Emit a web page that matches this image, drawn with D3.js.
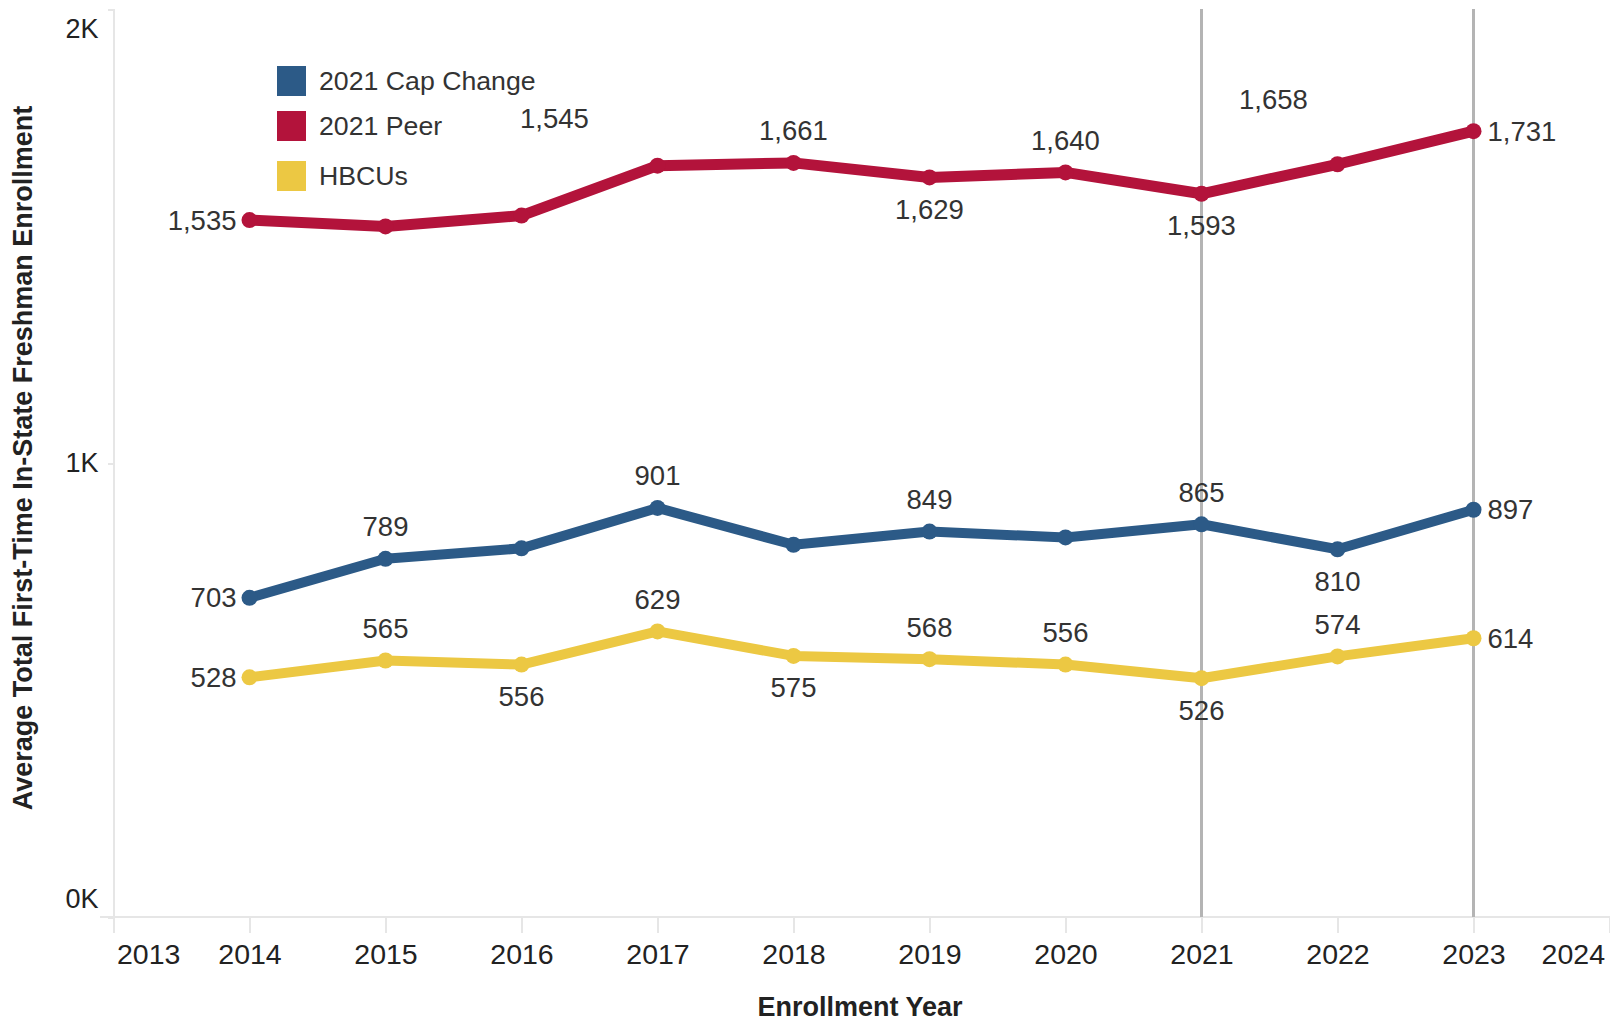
<!DOCTYPE html>
<html lang="en">
  <head>
    <meta charset="utf-8"/>
    <title>Average Total First-Time In-State Freshman Enrollment</title>
    <style>
      body {
        margin: 0;
        background: #fff;
        font-family: "Liberation Sans", Arial, sans-serif;
      }

      .axis path,
      .axis line {
        fill: none;
        stroke: #e6e6e6;
        stroke-width: 2;
        shape-rendering: crispEdges;
      }

      .axis text {
        fill: #222;
        font-family: "Liberation Sans", Arial, sans-serif;
      }

      .val {
        fill: #333;
        font-size: 27.5px;
      }
    </style>
    <script src="https://d3js.org/d3.v7.min.js"></script>
  </head>
  <body>
    <script type="text/javascript">
      // data
      var years = [2014, 2015, 2016, 2017, 2018, 2019, 2020, 2021, 2022, 2023];
      var seriesNames = ["2021 Cap Change", "2021 Peer", "HBCUs"];
      var capChange = [703, 789, 812, 901, 820, 849, 836, 865, 810, 897];
      var peer = [1535, 1521, 1545, 1655, 1661, 1629, 1640, 1593, 1658, 1731];
      var hbcus = [528, 565, 556, 629, 575, 568, 556, 526, 574, 614];
      var refYears = [2021, 2023];
      var xTicks = [2013, 2014, 2015, 2016, 2017, 2018, 2019, 2020, 2021, 2022, 2023, 2024];
      var yTicks = [0, 1000, 2000];

      // global variables
      var w = 1610;
      var h = 1021;
      var colors = ["#2c5a87", "#b3133b", "#ecc843"];

      // where each value label goes: L left, R right, A above, B below, "" none
      var capPos = ["L", "A", "", "A", "", "A", "", "A", "B", "R"];
      var peerPos = ["L", "", "N1", "", "A", "B", "A", "B", "N2", "R"];
      var hbcuPos = ["L", "A", "B", "A", "B", "A", "A", "B", "A", "R"];
      // nudged labels (tableau moved these out of the way)
      var nudge = {N1: [33, -97], N2: [-64, -65]};

      var series = [
        {name: seriesNames[0], values: capChange, pos: capPos, color: colors[0], width: 10},
        {name: seriesNames[1], values: peer, pos: peerPos, color: colors[1], width: 11},
        {name: seriesNames[2], values: hbcus, pos: hbcuPos, color: colors[2], width: 10}
      ];

      var svg = d3.select("body")
                  .append("svg")
                  .attr("width", w)
                  .attr("height", h);

      // scales
      var xScale = d3.scaleLinear()
                     .domain([2013, 2024])
                     .range([113.5, 1609.5]);
      var yScale = d3.scaleLinear()
                     .domain([0, 2000])
                     .range([917, 9]);

      // x axis
      var xAxis = d3.axisBottom(xScale)
                    .tickValues(xTicks)
                    .tickFormat(d3.format("d"))
                    .tickSize(16)
                    .tickPadding(11);

      var gx = svg.append("g")
                  .attr("class", "axis")
                  .attr("transform", "translate(0," + yScale(0) + ")")
                  .call(xAxis);
      gx.select(".domain").attr("d", "M100,0H" + w);
      gx.selectAll("text")
        .attr("font-size", "28.5px")
        .attr("text-anchor", function(d) {
          if (d == 2013) return "start";
          if (d == 2024) return "end";
          return "middle";
        })
        .attr("dx", function(d) {
          if (d == 2013) return 3;
          if (d == 2024) return -5;
          return 0;
        });

      // y axis
      var yAxis = d3.axisLeft(yScale)
                    .tickValues(yTicks)
                    .tickFormat(function(d) { return (d / 1000) + "K"; })
                    .tickSize(6)
                    .tickPadding(9);

      var gy = svg.append("g")
                  .attr("class", "axis")
                  .attr("transform", "translate(" + xScale(2013) + ",0)")
                  .call(yAxis);
      gy.selectAll("text")
        .attr("font-size", "27px")
        .attr("dy", function(d) {
          if (d == 2000) return "1.05em";
          if (d == 0) return "-0.35em";
          return "0.32em";
        });

      // reference lines at 2021 and 2023
      svg.selectAll(".refline")
         .data(refYears)
         .enter()
         .append("line")
         .attr("class", "refline")
         .attr("x1", function(d) { return xScale(d); })
         .attr("x2", function(d) { return xScale(d); })
         .attr("y1", yScale(2000))
         .attr("y2", yScale(0))
         .attr("stroke", "#b4b4b4")
         .attr("stroke-width", 3);

      // lines
      var line = d3.line()
                   .x(function(d, i) { return xScale(years[i]); })
                   .y(function(d) { return yScale(d); });

      var groups = svg.selectAll(".series")
                      .data(series)
                      .enter()
                      .append("g")
                      .attr("class", "series");

      groups.append("path")
            .attr("d", function(s) { return line(s.values); })
            .attr("fill", "none")
            .attr("stroke", function(s) { return s.color; })
            .attr("stroke-width", function(s) { return s.width; })
            .attr("stroke-linejoin", "round")
            .attr("stroke-linecap", "round");

      groups.selectAll("circle")
            .data(function(s) { return s.values.map(function(v, i) { return {v: v, i: i, s: s}; }); })
            .enter()
            .append("circle")
            .attr("cx", function(d) { return xScale(years[d.i]); })
            .attr("cy", function(d) { return yScale(d.v); })
            .attr("r", 8)
            .attr("fill", function(d) { return d.s.color; });

      // value labels
      var fmt = d3.format(",");
      groups.selectAll("text")
            .data(function(s) {
              return s.values.map(function(v, i) { return {v: v, i: i, p: s.pos[i]}; })
                             .filter(function(d) { return d.p != ""; });
            })
            .enter()
            .append("text")
            .attr("class", "val")
            .attr("dominant-baseline", "central")
            .attr("x", function(d) {
              var x = xScale(years[d.i]);
              if (d.p == "L") return x - 13;
              if (d.p == "R") return x + 14;
              if (nudge[d.p]) return x + nudge[d.p][0];
              return x;
            })
            .attr("y", function(d) {
              var y = yScale(d.v);
              if (d.p == "A") return y - 32;
              if (d.p == "B") return y + 32;
              if (nudge[d.p]) return y + nudge[d.p][1];
              return y;
            })
            .attr("text-anchor", function(d) {
              if (d.p == "L") return "end";
              if (d.p == "R") return "start";
              return "middle";
            })
            .text(function(d) { return fmt(d.v); });

      // legend
      var legend = svg.selectAll(".legend")
                      .data(series)
                      .enter()
                      .append("g")
                      .attr("class", "legend")
                      .attr("transform", function(d, i) {
                        return "translate(277," + [66, 111, 161][i] + ")";
                      });
      legend.append("rect")
            .attr("width", 29)
            .attr("height", 30)
            .attr("fill", function(d) { return d.color; });
      legend.append("text")
            .attr("x", 42)
            .attr("y", 15)
            .attr("dominant-baseline", "central")
            .attr("font-size", "26.7px")
            .attr("fill", "#333")
            .text(function(d) { return d.name; });

      // axis titles
      svg.append("text")
         .attr("text-anchor", "middle")
         .attr("x", 860)
         .attr("y", 1007)
         .attr("dominant-baseline", "central")
         .attr("font-size", "27px")
         .attr("font-weight", "bold")
         .attr("fill", "#222")
         .text("Enrollment Year");

      svg.append("text")
         .attr("text-anchor", "middle")
         .attr("transform", "translate(23,458) rotate(-90)")
         .attr("dominant-baseline", "central")
         .attr("font-size", "27px")
         .attr("font-weight", "bold")
         .attr("fill", "#222")
         .text("Average Total First-Time In-State Freshman Enrollment");
    </script>
  </body>
</html>
